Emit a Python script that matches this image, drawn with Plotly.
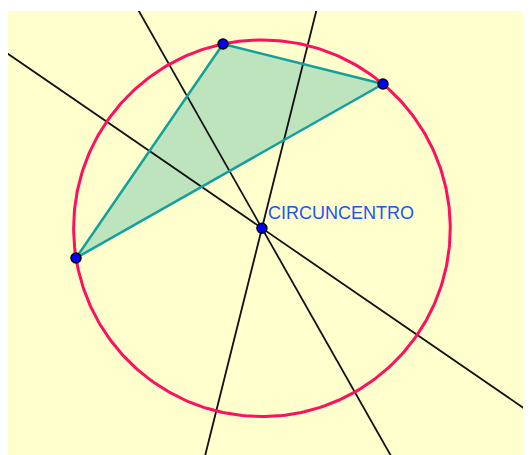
import numpy as np
import plotly.graph_objects as go

# Triangle vertices (screen-like coordinates, y downward)
vert_x = [223, 383, 76]
vert_y = [44, 84, 258]
label_text = "CIRCUNCENTRO"

A = np.array([vert_x[0], vert_y[0]], float)
B = np.array([vert_x[1], vert_y[1]], float)
C = np.array([vert_x[2], vert_y[2]], float)

# circumcenter
ax, ay = A; bx, by = B; cx, cy = C
d = 2 * (ax * (by - cy) + bx * (cy - ay) + cx * (ay - by))
ox = ((ax**2 + ay**2) * (by - cy) + (bx**2 + by**2) * (cy - ay) + (cx**2 + cy**2) * (ay - by)) / d
oy = ((ax**2 + ay**2) * (cx - bx) + (bx**2 + by**2) * (ax - cx) + (cx**2 + cy**2) * (bx - ax)) / d
O = np.array([ox, oy])
R = np.linalg.norm(A - O)

fig = go.Figure()

# triangle fill
fig.add_trace(go.Scatter(x=vert_x + [vert_x[0]], y=vert_y + [vert_y[0]], mode="lines",
                         fill="toself", fillcolor="rgba(190,228,190,1)",
                         line=dict(color="rgba(0,0,0,0)", width=0), hoverinfo="skip"))

# perpendicular bisectors
for P, Q in [(A, B), (B, C), (C, A)]:
    dv = Q - P
    n = np.array([-dv[1], dv[0]]) / np.linalg.norm(dv)
    t = 2000
    fig.add_trace(go.Scatter(x=[O[0] - t * n[0], O[0] + t * n[0]],
                             y=[O[1] - t * n[1], O[1] + t * n[1]],
                             mode="lines", line=dict(color="#111111", width=1.8),
                             hoverinfo="skip"))

# circumcircle
th = np.linspace(0, 2 * np.pi, 361)
fig.add_trace(go.Scatter(x=O[0] + R * np.cos(th), y=O[1] + R * np.sin(th), mode="lines",
                         line=dict(color="#FF0F5F", width=3), hoverinfo="skip"))

# triangle edges
fig.add_trace(go.Scatter(x=vert_x + [vert_x[0]], y=vert_y + [vert_y[0]], mode="lines",
                         line=dict(color="#11A09C", width=2.5), hoverinfo="skip"))

# points
fig.add_trace(go.Scatter(x=vert_x + [O[0]], y=vert_y + [O[1]], mode="markers",
                         marker=dict(color="#0000FF", size=10,
                                     line=dict(color="#000000", width=1.5)),
                         hoverinfo="skip"))

fig.add_annotation(x=O[0] + 4, y=O[1] - 15, text=label_text, showarrow=False,
                   xanchor="left", yanchor="middle",
                   font=dict(family="Liberation Sans, Arial, sans-serif", size=18, color="#2255EE"))

# page body offsets the figure by 8px; size the figure to fill the rest of the window
W, H = 523, 447
fig.update_layout(width=W, height=H, margin=dict(l=0, t=3, r=0, b=0),
                  paper_bgcolor="white", plot_bgcolor="#FFFFCE", showlegend=False,
                  hovermode=False)
fig.update_xaxes(range=[8, 8 + W], visible=False, showgrid=False, zeroline=False)
fig.update_yaxes(range=[8 + H, 11], visible=False, showgrid=False, zeroline=False)

fig.write_html("out.html")
